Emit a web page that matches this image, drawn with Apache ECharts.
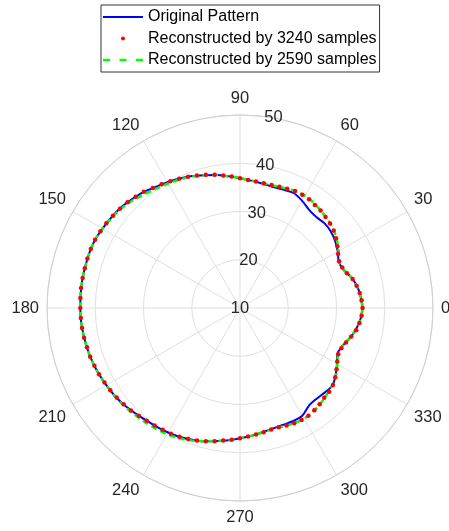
<!DOCTYPE html>
<html><head><meta charset="utf-8">
<script src="https://cdn.jsdelivr.net/npm/echarts@6/dist/echarts.min.js"></script>
<style>html,body{margin:0;padding:0;background:#fff}#c{width:449px;height:531px}</style>
</head><body><div id="c"></div>
<script>
const angles5 = [0,5,10,15,20,25,30,35,40,45,50,55,60,65,70,75,80,85,90,95,100,105,110,115,120,125,130,135,140,145,150,155,160,165,170,175,180,185,190,195,200,205,210,215,220,225,230,235,240,245,250,255,260,265,270,275,280,285,290,295,300,305,310,315,320,325,330,335,340,345,350,355,360];
const originalPattern = [35.4,35.15,34.75,34.0,32.9,32.6,33.4,34.1,34.6,34.8,34.6,34.9,35.7,36.3,36.1,36.0,36.2,36.5,36.9,37.4,38.0,38.5,39.1,39.6,40.1,40.6,41.3,41.8,42.3,42.6,42.9,43.2,43.25,43.2,43.2,43.15,43.1,43.05,42.9,42.75,42.55,42.3,42.0,41.7,41.3,40.8,40.35,40.05,39.8,39.5,39.05,38.6,38.0,37.5,37.0,36.6,36.2,35.9,35.8,35.9,35.8,34.8,34.6,34.8,35.0,34.2,33.2,32.3,32.7,33.7,34.5,35.1,35.4];
const recon2590 = [35.4,35.1,34.7,34.0,33.0,32.7,33.6,34.5,35.3,35.8,36.2,36.6,36.9,36.8,36.5,36.3,36.3,36.5,36.9,37.4,38.0,38.5,39.0,39.4,39.8,40.2,40.8,41.5,42.1,42.5,42.9,43.2,43.25,43.2,43.2,43.15,43.1,43.05,42.9,42.75,42.55,42.3,42.0,41.75,41.45,41.1,40.8,40.5,40.2,39.8,39.2,38.6,38.0,37.5,37.0,36.6,36.25,36.0,36.1,36.4,36.5,36.3,35.9,35.4,35.0,34.3,33.3,32.5,32.7,33.6,34.5,35.1,35.4];
const anglesDots = [0,3.6,7.2,10.8,14.4,18,21.6,25.2,28.8,32.4,36,39.6,43.2,46.8,50.4,54,57.6,61.2,64.8,68.4,72,75.6,79.2,82.8,86.4,90,93.6,97.2,100.8,104.4,108,111.6,115.2,118.8,122.4,126,129.6,133.2,136.8,140.4,144,147.6,151.2,154.8,158.4,162,165.6,169.2,172.8,176.4,180,183.6,187.2,190.8,194.4,198,201.6,205.2,208.8,212.4,216,219.6,223.2,226.8,230.4,234,237.6,241.2,244.8,248.4,252,255.6,259.2,262.8,266.4,270,273.6,277.2,280.8,284.4,288,291.6,295.2,298.8,302.4,306,309.6,313.2,316.8,320.4,324,327.6,331.2,334.8,338.4,342,345.6,349.2,352.8,356.4];
const recon3240 = [35.4,35.25,35.0,34.6,34.1,33.3,32.8,32.7,33.2,33.9,34.6,35.2,35.6,35.9,36.2,36.4,36.7,36.8,36.8,36.6,36.4,36.3,36.3,36.4,36.6,36.9,37.3,37.7,38.1,38.5,38.9,39.25,39.6,40.0,40.35,40.75,41.25,41.6,42.0,42.3,42.55,42.8,43.0,43.2,43.25,43.25,43.2,43.2,43.2,43.15,43.1,43.05,43.0,42.9,42.75,42.65,42.45,42.3,42.05,41.85,41.6,41.3,41.0,40.65,40.35,40.1,39.9,39.75,39.5,39.2,38.9,38.5,38.1,37.7,37.35,37.0,36.7,36.45,36.2,36.0,36.0,36.2,36.4,36.5,36.45,36.2,35.9,35.5,35.35,35.0,34.4,33.7,33.0,32.5,32.6,33.1,33.8,34.5,34.95,35.25];
const angleTicks = [0,30,60,90,120,150,180,210,240,270,300,330];
const radialTicks = [10,20,30,40,50];

const FONT = 'Liberation Sans, Arial, sans-serif';
const chart = echarts.init(document.getElementById('c'), null, {renderer:'canvas'});
const pair = (vals, angs) => vals.map((v,i)=>[v, angs[i]]);

chart.setOption({
  animation:false,
  backgroundColor:'#ffffff',
  legend:{
    orient:'vertical', left:101, top:5,
    padding:[4,3,4,2], itemGap:5.5, itemWidth:40, itemHeight:4,
    borderColor:'#333333', borderWidth:1, backgroundColor:'#ffffff',
    textStyle:{fontFamily:FONT, fontSize:16, color:'#000000'},
    data:[
      {name:'Original Pattern', icon:'path://M0,0h40v2h-40z', itemStyle:{color:'#0000ff'}},
      {name:'Reconstructed by 3240 samples', icon:'circle', itemStyle:{color:'#ff0000'}},
      {name:'Reconstructed by 2590 samples', icon:'path://M0,0h7v2.5h-7z M16.5,0h7v2.5h-7z M33,0h7v2.5h-7z', itemStyle:{color:'#00ff00'}}
    ]
  },
  polar:[
    {center:[240,308], radius:193},
    {center:[240,308], radius:193}
  ],
  angleAxis:[
    {polarIndex:0, type:'value', min:0, max:360, interval:30, startAngle:0, clockwise:false,
     axisLine:{show:true, lineStyle:{color:'#cfcfcf', width:1}},
     axisTick:{show:false},
     splitLine:{show:true, lineStyle:{color:'#e0e0e0', width:1}},
     axisLabel:{show:true, margin:8, color:'#262626', fontSize:16.5, fontFamily:FONT,
       formatter:v => (angleTicks.indexOf(v) >= 0 ? String(v) : '')}},
    {polarIndex:1, type:'value', min:0, max:360, startAngle:80, clockwise:false, show:false}
  ],
  radiusAxis:[
    {polarIndex:0, type:'value', min:radialTicks[0], max:radialTicks[radialTicks.length-1], interval:10,
     axisLine:{show:false}, axisTick:{show:false}, axisLabel:{show:false},
     splitLine:{show:true, lineStyle:{color:'#e0e0e0', width:1}}},
    {polarIndex:1, type:'value', min:radialTicks[0], max:radialTicks[radialTicks.length-1], interval:10,
     axisLine:{show:false}, axisTick:{show:false}, splitLine:{show:false},
     axisLabel:{show:true, margin:0, align:'center', verticalAlign:'middle', color:'#262626', fontSize:16.5, fontFamily:FONT}}
  ],
  series:[
    {name:'Original Pattern', type:'line', coordinateSystem:'polar', polarIndex:0,
     data:pair(originalPattern, angles5), showSymbol:false, symbol:'none', smooth:0.3,
     lineStyle:{color:'#0000ff', width:2}, itemStyle:{color:'#0000ff'}, z:2},
    {name:'Reconstructed by 2590 samples', type:'line', coordinateSystem:'polar', polarIndex:0,
     data:pair(recon2590, angles5), showSymbol:false, symbol:'none', smooth:0.3,
     lineStyle:{color:'#00ff00', width:2.5, type:[6,4]}, itemStyle:{color:'#00ff00'}, z:3},
    {name:'Reconstructed by 3240 samples', type:'scatter', coordinateSystem:'polar', polarIndex:0,
     data:pair(recon3240, anglesDots), symbol:'circle', symbolSize:4.5,
     itemStyle:{color:'#ff0000', opacity:1}, z:4}
  ]
});
</script></body></html>
